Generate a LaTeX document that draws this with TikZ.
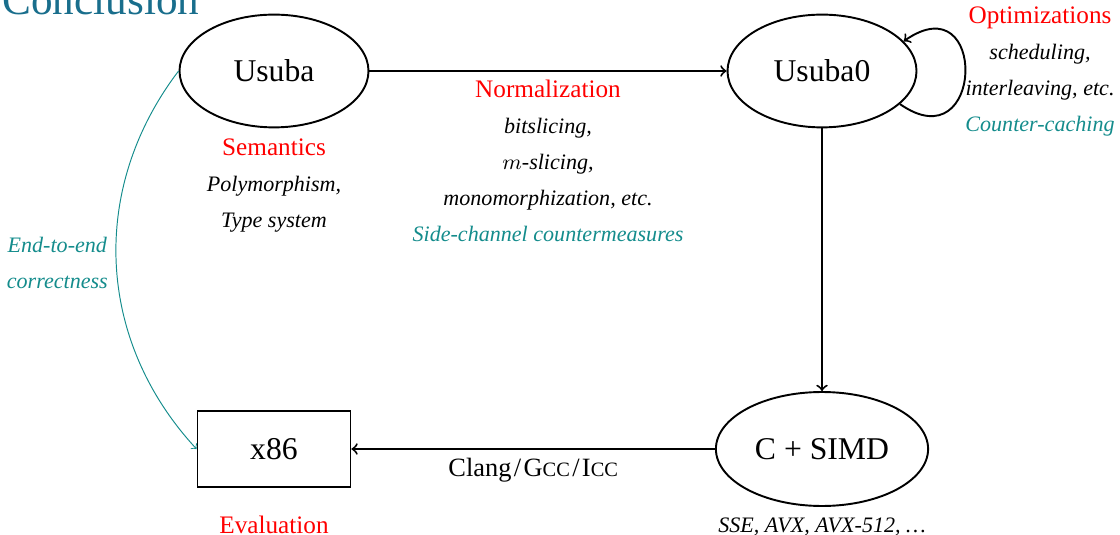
\documentclass[tikz,border=0pt]{standalone}
\usepackage{fontspec}
\setmainfont{Liberation Serif}
\usetikzlibrary{shapes.geometric,positioning}

\definecolor{structure}{RGB}{25,110,140}
\definecolor{remark}{RGB}{20,140,140}
\newcommand{\redhd}[1]{{\fontsize{10.5}{15}\selectfont\upshape\color{red}#1}}
\newcommand{\fakesc}[1]{{\fontsize{8.5}{10}\selectfont #1}}

\tikzset{
  lang/.style={draw,thick,ellipse,minimum width=78.75pt,minimum height=47pt,font=\fontsize{13.2}{16}\selectfont},
  target/.style={draw,thick,rectangle,minimum width=63.75pt,minimum height=31.7pt,font=\fontsize{13.2}{16}\selectfont},
  plain/.style={font=\fontsize{10.5}{12.6}\selectfont},
  notes/.style={align=center,font=\fontsize{9.2}{15}\selectfont\itshape},
}

\begin{document}
\begin{tikzpicture}[x=0.4167pt,y=0.4167pt,>=to]
	\useasboundingbox (0,0) rectangle (1120,-535);
	\node[anchor=base west,inner sep=0pt,text=structure,font=\fontsize{18}{20}\selectfont] (title) at (2,-15) {Conclusion};

	% compilation chain
	\node[lang] (usuba) at (274,-71) {Usuba};
	\node[lang] (usuba0) at (822,-71) {Usuba0};
	\node[lang,minimum width=86.7pt,minimum height=47.5pt] (simd) at (822,-449) {C + SIMD};
	\node[target] (x86) at (274,-449) {x86};

	\draw[thick,->] (usuba) -- node[below,notes] (norm) {\redhd{Normalization}\\ bitslicing,\\ $m$-slicing,\\ monomorphization, etc.\\ \textcolor{remark}{Side-channel countermeasures}} (usuba0);
	\draw[thick,->] (usuba0) -- (simd);
	\draw[thick,->] (simd) -- node[below,plain,font=\fontsize{11}{13}\selectfont] (cc) {Clang\kern1pt/\kern1ptG\fakesc{CC}\kern1pt/\kern1ptI\fakesc{CC}} (x86);
	\draw[thick,->] (usuba0.-23) to[out=-35,in=35,looseness=4.2] (usuba0.20);
	\draw[remark,->] (usuba.west) to[bend right=40] node[left,notes] (e2e) {End-to-end\\ correctness} (x86.west);

	% notes under the nodes
	\node[notes,below=1pt of usuba] (sem) {\redhd{Semantics}\\ Polymorphism,\\ Type system};
	\node[notes,anchor=north] (opt) at (1040,2) {\redhd{Optimizations}\\ scheduling,\\ interleaving, etc.\\ \textcolor{remark}{Counter-caching}};
	\node[plain,text=red,below=8pt of x86] (eval) {Evaluation};
	\node[notes,below=1pt of simd] (isa) {SSE, AVX, AVX-512, \dots};
\end{tikzpicture}
\end{document}
